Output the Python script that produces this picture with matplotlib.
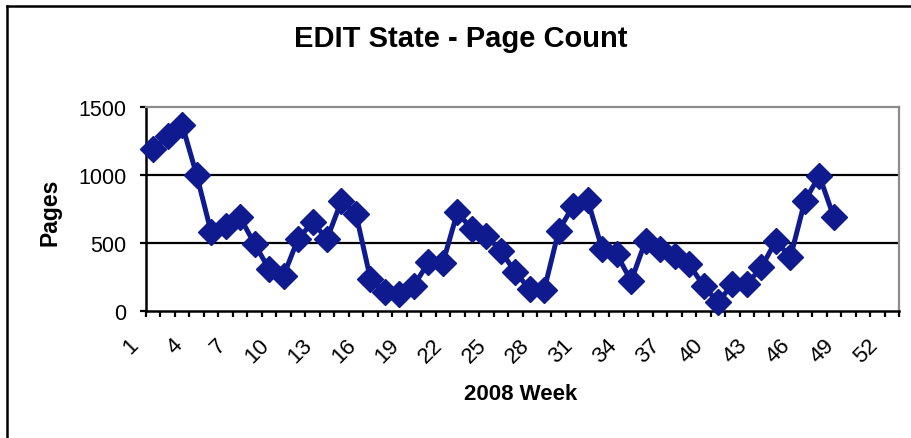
import numpy as np
import matplotlib.pyplot as plt
from matplotlib.lines import Line2D
from matplotlib.transforms import ScaledTranslation

plt.rcParams['font.family'] = ['Liberation Sans', 'DejaVu Sans']

# weekly page counts (weeks 1-48 of 2008)
weeks = list(range(1, 49))
pages = [1190, 1286, 1370, 1000, 578, 627, 688, 492, 307, 258,
         529, 652, 529, 811, 713, 234, 135, 123, 184, 357,
         352, 725, 602, 553, 443, 283, 160, 155, 590, 775,
         815, 455, 418, 218, 516, 455, 406, 344, 184, 61,
         197, 197, 320, 516, 393, 811, 996, 689]
n_categories = 52
label_weeks = list(range(1, 53, 3))
y_ticks = [0, 500, 1000, 1500]

line_color = '#0f1a8e'

fig = plt.figure(figsize=(9.12, 4.39), dpi=100)
ax = fig.add_axes([146 / 912, 1 - 311.7 / 439, 753 / 912, 203.4 / 439])

ax.plot(weeks, pages, color=line_color, lw=3.6, marker='D', ms=13,
        mfc=line_color, mec=line_color, zorder=3, clip_on=False)

ax.set_xlim(0.5, n_categories + 0.5)
ax.set_ylim(0, 1500)

# gridlines
for y in [500, 1000]:
    ax.axhline(y, color='black', lw=1.6, zorder=1)

# spines: black axes, gray plot border
for side in ['left', 'bottom']:
    ax.spines[side].set_color('black')
    ax.spines[side].set_linewidth(1.8)
for side in ['top', 'right']:
    ax.spines[side].set_color('#8c8c8c')
    ax.spines[side].set_linewidth(1.6)

ax.set_yticks(y_ticks)
ax.set_yticklabels([str(v) for v in y_ticks])
ax.tick_params(axis='y', direction='out', length=4, width=1.6, pad=10,
               labelsize=15.5, colors='black')

# tick marks between categories, labels on every third category
ax.set_xticks(np.arange(0.5, n_categories + 1, 1.0))
ax.tick_params(axis='x', which='major', direction='out', length=4,
               width=1.6, labelbottom=False)
ax.set_xticks(label_weeks, minor=True)
ax.set_xticklabels([str(w) for w in label_weeks], minor=True)
ax.tick_params(axis='x', which='minor', length=0, pad=17, labelsize=16)
offset = ScaledTranslation(-0.25, 0, fig.dpi_scale_trans)
for lab in ax.get_xticklabels(minor=True):
    lab.set_rotation(45)
    lab.set_ha('right')
    lab.set_va('top')
    lab.set_rotation_mode('anchor')
    lab.set_transform(lab.get_transform() + offset)

fig.text(461 / 912, 1 - 47 / 439, 'EDIT State - Page Count',
         ha='center', va='baseline', fontsize=21, fontweight='bold')
fig.text(521 / 912, 1 - 400 / 439, '2008 Week',
         ha='center', va='baseline', fontsize=16, fontweight='bold')
fig.text(50 / 912, 1 - 212 / 439, 'Pages', rotation=90,
         ha='center', va='center', fontsize=16.5, fontweight='bold')

# outer chart frame (left and top edges visible)
fig.add_artist(Line2D([7 / 912, 7 / 912], [0, 1 - 7 / 439],
                      transform=fig.transFigure, color='black', lw=1.8))
fig.add_artist(Line2D([7 / 912, 1], [1 - 7 / 439, 1 - 7 / 439],
                      transform=fig.transFigure, color='black', lw=1.8))

fig.savefig('out.png', dpi=100)
